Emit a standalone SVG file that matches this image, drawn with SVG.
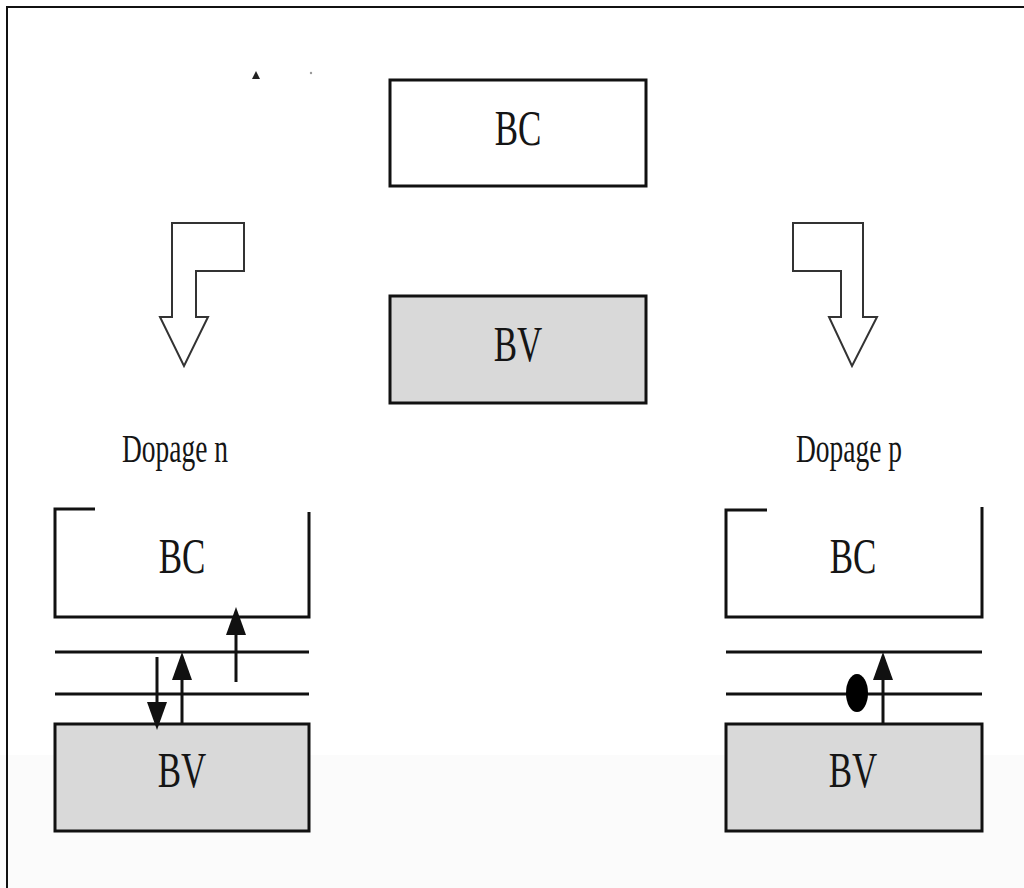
<svg xmlns="http://www.w3.org/2000/svg" width="1024" height="888" viewBox="0 0 1024 888">
  <style>
    .box { stroke: #111; stroke-width: 3; }
    .fillC { fill: #ffffff; }
    .fillV { fill: #d9d9d9; }
    .ln { stroke: #111; stroke-width: 3; fill: none; }
    .hollow { fill: #ffffff; stroke: #333; stroke-width: 2; stroke-linejoin: miter; }
    .lbl { font-family: "Liberation Serif", "Times New Roman", serif; fill: #151515; text-anchor: middle; }
    .big { font-size: 50px; }
    .mid { font-size: 41px; }
    .arr { stroke: #111; stroke-width: 3; fill: none; }
  </style>
  <defs>
    <!-- solid arrowhead, tip 26px beyond the line end -->
    <marker id="head" viewBox="0 0 28 20" refX="2" refY="10" markerWidth="28" markerHeight="20" markerUnits="userSpaceOnUse" orient="auto">
      <path d="M0,0 L28,10 L0,20 Z" fill="#111"/>
    </marker>
  </defs>

  <rect width="1024" height="888" fill="#ffffff"/>
  <rect x="0" y="755" width="1024" height="133" fill="#fbfbfb"/>

  <!-- frame (top and left edges) -->
  <path d="M1024,7 H7 V888" fill="none" stroke="#111" stroke-width="2"/>

  <!-- small marks -->
  <polygon points="252,79 256,71 260,79" fill="#222"/>
  <circle cx="311" cy="73" r="1.2" fill="#999"/>

  <!-- intrinsic band diagram -->
  <g id="bc-top">
    <rect class="box fillC" x="390" y="80" width="256" height="106"/>
    <text class="lbl big" transform="translate(518,145) scale(0.7,1)">BC</text>
  </g>
  <g id="bv-top">
    <rect class="box fillV" x="390" y="296" width="256" height="107"/>
    <text class="lbl big" transform="translate(518,361) scale(0.7,1)">BV</text>
  </g>

  <!-- hollow bent arrows -->
  <g id="arrow-n">
    <path class="hollow" d="M172,223 H244 V271 H196 V317 H208 L184,366 L160,317 H172 Z"/>
  </g>
  <g id="arrow-p">
    <path class="hollow" d="M793,223 H863 V317 H877 L852,366 L829,317 H841 V271 H793 Z"/>
  </g>

  <!-- n-type doping -->
  <g id="label-n">
    <text class="lbl mid" transform="translate(175,462) scale(0.67,1)">Dopage n</text>
  </g>
  <g id="bc-n">
    <path class="ln" d="M95,509 H55 V617 H309 V512"/>
    <text class="lbl big" transform="translate(182,573) scale(0.7,1)">BC</text>
  </g>
  <g id="levels-n">
    <line class="ln" x1="55" y1="652" x2="309" y2="652"/>
    <line class="ln" x1="55" y1="694" x2="309" y2="694"/>
  </g>
  <g id="bv-n">
    <rect class="box fillV" x="55" y="724" width="254" height="107"/>
    <text class="lbl big" transform="translate(182,787) scale(0.7,1)">BV</text>
  </g>

  <!-- p-type doping -->
  <g id="label-p">
    <text class="lbl mid" transform="translate(849,462) scale(0.67,1)">Dopage p</text>
  </g>
  <g id="bc-p">
    <path class="ln" d="M767,510 H726 V617 H982 V507"/>
    <text class="lbl big" transform="translate(853,573) scale(0.7,1)">BC</text>
  </g>
  <g id="levels-p">
    <line class="ln" x1="726" y1="652" x2="982" y2="652"/>
    <line class="ln" x1="726" y1="694" x2="982" y2="694"/>
  </g>
  <g id="bv-p">
    <rect class="box fillV" x="726" y="724" width="256" height="107"/>
    <text class="lbl big" transform="translate(853,787) scale(0.7,1)">BV</text>
  </g>
  <g id="hole-p">
    <ellipse cx="857" cy="693" rx="11" ry="19" fill="#000"/>
  </g>

  <!-- transitions -->
  <g id="connectors">
    <line class="arr" x1="157" y1="657" x2="157" y2="704" marker-end="url(#head)"/>
    <line class="arr" x1="182" y1="724" x2="182" y2="678" marker-end="url(#head)"/>
    <line class="arr" x1="236" y1="682" x2="236" y2="633" marker-end="url(#head)"/>
    <line class="arr" x1="883" y1="724" x2="883" y2="678" marker-end="url(#head)"/>
  </g>
</svg>
